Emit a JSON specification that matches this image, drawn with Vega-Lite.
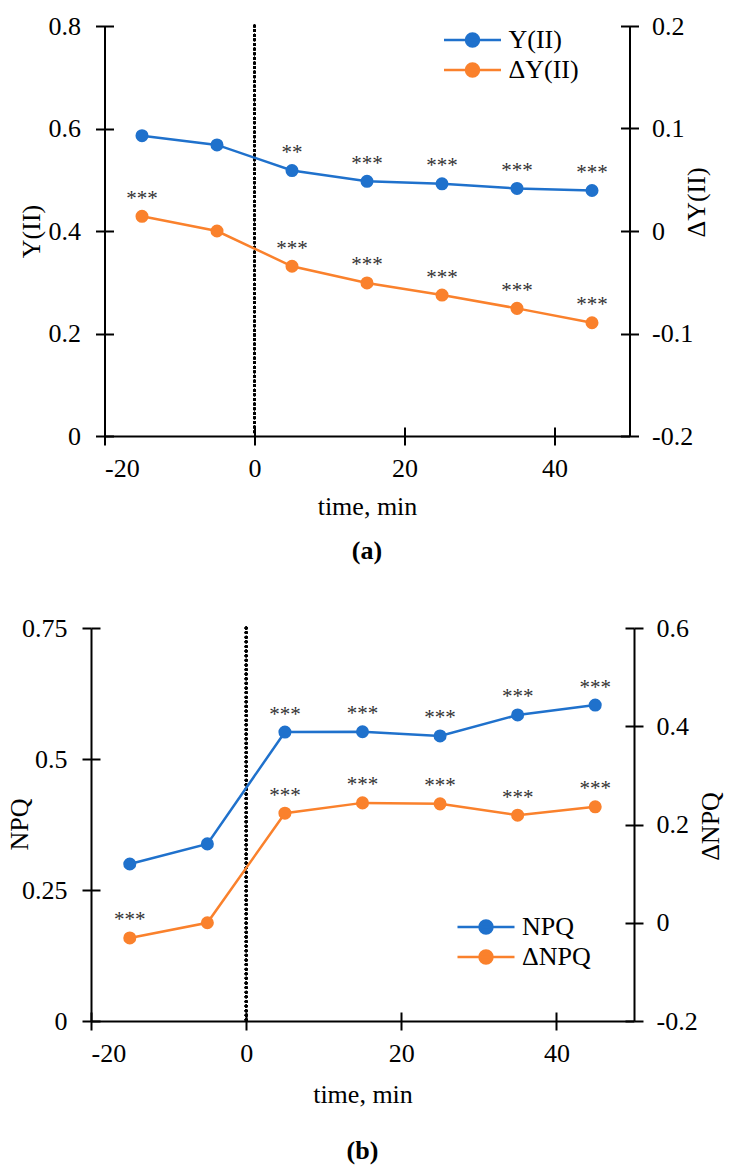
{
  "$schema": "https://vega.github.io/schema/vega-lite/v6.json",
  "background": "white",
  "padding": {"left": 6, "top": 13, "right": 5, "bottom": 5},
  "spacing": 51,
  "center": true,
  "resolve": {"scale": {"color": "independent"}, "legend": {"color": "independent"}},
  "config": {
    "font": "Liberation Serif",
    "view": {"stroke": null},
    "axis": {
      "domainColor": "black", "domainWidth": 2, "tickColor": "black", "tickWidth": 2, "tickSize": 9,
      "labelFont": "Liberation Serif", "titleFont": "Liberation Serif",
      "labelFontSize": 26, "labelColor": "black", "titleFontSize": 26, "titleFontWeight": "normal", "titleColor": "black",
      "grid": false,
      "labelExpr": "datum.value < 0 ? '-' + format(-datum.value, '~g') : format(datum.value, '~g')"
    },
    "axisX": {"labelPadding": 10, "titlePadding": 12},
    "axisY": {"labelPadding": 15},
    "title": {"font": "Liberation Serif", "color": "black"},
    "text": {"font": "Liberation Serif"},
    "legend": {"labelFont": "Liberation Serif", "labelFontSize": 26, "labelColor": "black"}
  },
  "datasets": {
    "a": [
      {"t": -15, "s": "Y(II)", "v": 0.586, "sig": ""},
      {"t": -5, "s": "Y(II)", "v": 0.568, "sig": ""},
      {"t": 5, "s": "Y(II)", "v": 0.518, "sig": "**"},
      {"t": 15, "s": "Y(II)", "v": 0.497, "sig": "***"},
      {"t": 25, "s": "Y(II)", "v": 0.492, "sig": "***"},
      {"t": 35, "s": "Y(II)", "v": 0.483, "sig": "***"},
      {"t": 45, "s": "Y(II)", "v": 0.479, "sig": "***"},
      {"t": -15, "s": "ΔY(II)", "v": 0.0143, "sig": "***"},
      {"t": -5, "s": "ΔY(II)", "v": 0.0, "sig": ""},
      {"t": 5, "s": "ΔY(II)", "v": -0.0344, "sig": "***"},
      {"t": 15, "s": "ΔY(II)", "v": -0.0507, "sig": "***"},
      {"t": 25, "s": "ΔY(II)", "v": -0.0625, "sig": "***"},
      {"t": 35, "s": "ΔY(II)", "v": -0.0755, "sig": "***"},
      {"t": 45, "s": "ΔY(II)", "v": -0.0895, "sig": "***"}
    ],
    "b": [
      {"t": -15, "s": "NPQ", "v": 0.2996, "sig": ""},
      {"t": -5, "s": "NPQ", "v": 0.338, "sig": ""},
      {"t": 5, "s": "NPQ", "v": 0.5515, "sig": "***"},
      {"t": 15, "s": "NPQ", "v": 0.552, "sig": "***"},
      {"t": 25, "s": "NPQ", "v": 0.544, "sig": "***"},
      {"t": 35, "s": "NPQ", "v": 0.584, "sig": "***"},
      {"t": 45, "s": "NPQ", "v": 0.603, "sig": "***"},
      {"t": -15, "s": "ΔNPQ", "v": -0.031, "sig": "***"},
      {"t": -5, "s": "ΔNPQ", "v": 0.0, "sig": ""},
      {"t": 5, "s": "ΔNPQ", "v": 0.223, "sig": "***"},
      {"t": 15, "s": "ΔNPQ", "v": 0.244, "sig": "***"},
      {"t": 25, "s": "ΔNPQ", "v": 0.242, "sig": "***"},
      {"t": 35, "s": "ΔNPQ", "v": 0.219, "sig": "***"},
      {"t": 45, "s": "ΔNPQ", "v": 0.236, "sig": "***"}
    ]
  },
  "vconcat": [
    {
      "width": 525, "height": 410,
      "title": {"text": "(a)", "orient": "bottom", "fontSize": 26, "fontWeight": "bold", "offset": 19},
      "data": {"name": "a"},
      "layer": [
        {
          "transform": [{"filter": "datum.s === 'Y(II)'"}],
          "encoding": {
            "x": {"field": "t", "type": "quantitative", "scale": {"domain": [-20, 50], "nice": false},
                  "axis": {"values": [-20, 0, 20, 40], "title": "time, min"}},
            "y": {"field": "v", "type": "quantitative", "scale": {"domain": [0, 0.8], "nice": false},
                  "axis": {"orient": "left", "values": [0, 0.2, 0.4, 0.6, 0.8], "title": "Y(II)",
                           "titleX": -73, "titleY": 205, "titleAngle": 270, "titleAlign": "center", "titleBaseline": "middle"}}
          },
          "layer": [
            {"mark": {"type": "rule", "strokeDash": [0.01, 4.6], "strokeCap": "round", "strokeWidth": 3, "color": "black"},
             "encoding": {"x": {"datum": 0, "type": "quantitative"}, "y": null}},
            {"mark": {"type": "line", "strokeWidth": 2.5, "point": {"filled": true, "size": 170, "opacity": 1}},
             "encoding": {
               "color": {"field": "s", "type": "nominal", "scale": {"domain": ["Y(II)", "ΔY(II)"], "range": ["#1f71cc", "#fa812c"]},
                 "legend": {"title": null, "orient": "none", "legendX": 355, "legendY": 1, "rowPadding": 4,
                   "symbolType": "M-5.7,0L5.7,0M-1.3,0A1.3,1.3,0,1,1,1.3,0A1.3,1.3,0,1,1,-1.3,0Z",
                   "symbolSize": 100, "symbolStrokeWidth": 2.5, "labelOffset": 23,
                   "encode": {"symbols": {"update": {"fill": {"scale": "color", "field": "value"}, "stroke": {"scale": "color", "field": "value"}, "opacity": {"value": 1}}}}}}
             }},
            {"mark": {"type": "text", "baseline": "alphabetic", "dy": -11.5, "fontSize": 21, "color": "#333"},
             "encoding": {"text": {"field": "sig"}}}
          ]
        },
        {
          "transform": [{"filter": "datum.s === 'ΔY(II)'"}],
          "encoding": {
            "x": {"field": "t", "type": "quantitative", "axis": null},
            "y": {"field": "v", "type": "quantitative", "scale": {"domain": [-0.2, 0.2], "nice": false},
                  "axis": {"orient": "right", "values": [-0.2, -0.1, 0, 0.1, 0.2], "title": "ΔY(II)", "labelPadding": 13,
                           "titleX": 67, "titleY": 176, "titleAngle": 270, "titleAlign": "center", "titleBaseline": "middle"}}
          },
          "layer": [
            {"mark": {"type": "line", "strokeWidth": 2.5, "point": {"filled": true, "size": 170, "opacity": 1}},
             "encoding": {"color": {"field": "s", "type": "nominal"}}},
            {"mark": {"type": "text", "baseline": "alphabetic", "dy": -11.5, "fontSize": 21, "color": "#333"},
             "encoding": {"text": {"field": "sig"}}}
          ]
        },
        {
          "transform": [{"filter": "datum.s === 'Y(II)'"}],
          "mark": {"type": "point", "opacity": 0},
          "encoding": {
            "x": {"field": "t", "type": "quantitative",
                  "axis": {"orient": "bottom", "values": [-20, 0, 20, 40], "tickSize": -9, "labels": false, "domain": false, "title": null}},
            "y": {"field": "v", "type": "quantitative", "scale": {"domain": [0, 0.8], "nice": false},
                  "axis": {"orient": "left", "values": [0, 0.2, 0.4, 0.6, 0.8], "tickSize": -9, "labels": false, "domain": false, "title": null}}
          }
        },
        {
          "transform": [{"filter": "datum.s === 'ΔY(II)'"}],
          "mark": {"type": "point", "opacity": 0},
          "encoding": {
            "x": {"field": "t", "type": "quantitative", "axis": null},
            "y": {"field": "v", "type": "quantitative", "scale": {"domain": [-0.2, 0.2], "nice": false},
                  "axis": {"orient": "right", "values": [-0.2, -0.1, 0, 0.1, 0.2], "tickSize": -9, "labels": false, "domain": false, "title": null}}
          }
        }
      ],
      "resolve": {"scale": {"y": "independent"}, "axis": {"x": "independent"}}
    },
    {
      "width": 543, "height": 393,
      "title": {"text": "(b)", "orient": "bottom", "fontSize": 26, "fontWeight": "bold", "offset": 31},
      "data": {"name": "b"},
      "layer": [
        {
          "transform": [{"filter": "datum.s === 'NPQ'"}],
          "encoding": {
            "x": {"field": "t", "type": "quantitative", "scale": {"domain": [-20, 50], "nice": false},
                  "axis": {"values": [-20, 0, 20, 40], "title": "time, min", "titlePadding": 15}},
            "y": {"field": "v", "type": "quantitative", "scale": {"domain": [0, 0.75], "nice": false},
                  "axis": {"orient": "left", "values": [0, 0.25, 0.5, 0.75], "title": "NPQ",
                           "titleX": -72, "titleY": 196, "titleAngle": 270, "titleAlign": "center", "titleBaseline": "middle"}}
          },
          "layer": [
            {"mark": {"type": "rule", "strokeDash": [0.01, 4.6], "strokeCap": "round", "strokeWidth": 3, "color": "black"},
             "encoding": {"x": {"datum": 0, "type": "quantitative"}, "y": null}},
            {"mark": {"type": "line", "strokeWidth": 2.5, "point": {"filled": true, "size": 170, "opacity": 1}},
             "encoding": {
               "color": {"field": "s", "type": "nominal", "scale": {"domain": ["NPQ", "ΔNPQ"], "range": ["#1f71cc", "#fa812c"]},
                 "legend": {"title": null, "orient": "none", "legendX": 382, "legendY": 286, "rowPadding": 4,
                   "symbolType": "M-5.7,0L5.7,0M-1.3,0A1.3,1.3,0,1,1,1.3,0A1.3,1.3,0,1,1,-1.3,0Z",
                   "symbolSize": 100, "symbolStrokeWidth": 2.5, "labelOffset": 23,
                   "encode": {"symbols": {"update": {"fill": {"scale": "color", "field": "value"}, "stroke": {"scale": "color", "field": "value"}, "opacity": {"value": 1}}}}}}
             }},
            {"mark": {"type": "text", "baseline": "alphabetic", "dy": -11.5, "fontSize": 21, "color": "#333"},
             "encoding": {"text": {"field": "sig"}}}
          ]
        },
        {
          "transform": [{"filter": "datum.s === 'ΔNPQ'"}],
          "encoding": {
            "x": {"field": "t", "type": "quantitative", "axis": null},
            "y": {"field": "v", "type": "quantitative", "scale": {"domain": [-0.2, 0.6], "nice": false},
                  "axis": {"orient": "right", "values": [-0.2, 0, 0.2, 0.4, 0.6], "title": "ΔNPQ", "labelPadding": 13,
                           "titleX": 76, "titleY": 198, "titleAngle": 270, "titleAlign": "center", "titleBaseline": "middle"}}
          },
          "layer": [
            {"mark": {"type": "line", "strokeWidth": 2.5, "point": {"filled": true, "size": 170, "opacity": 1}},
             "encoding": {"color": {"field": "s", "type": "nominal"}}},
            {"mark": {"type": "text", "baseline": "alphabetic", "dy": -11.5, "fontSize": 21, "color": "#333"},
             "encoding": {"text": {"field": "sig"}}}
          ]
        },
        {
          "transform": [{"filter": "datum.s === 'NPQ'"}],
          "mark": {"type": "point", "opacity": 0},
          "encoding": {
            "x": {"field": "t", "type": "quantitative",
                  "axis": {"orient": "bottom", "values": [-20, 0, 20, 40], "tickSize": -9, "labels": false, "domain": false, "title": null}},
            "y": {"field": "v", "type": "quantitative", "scale": {"domain": [0, 0.75], "nice": false},
                  "axis": {"orient": "left", "values": [0, 0.25, 0.5, 0.75], "tickSize": -9, "labels": false, "domain": false, "title": null}}
          }
        },
        {
          "transform": [{"filter": "datum.s === 'ΔNPQ'"}],
          "mark": {"type": "point", "opacity": 0},
          "encoding": {
            "x": {"field": "t", "type": "quantitative", "axis": null},
            "y": {"field": "v", "type": "quantitative", "scale": {"domain": [-0.2, 0.6], "nice": false},
                  "axis": {"orient": "right", "values": [-0.2, 0, 0.2, 0.4, 0.6], "tickSize": -9, "labels": false, "domain": false, "title": null}}
          }
        }
      ],
      "resolve": {"scale": {"y": "independent"}, "axis": {"x": "independent"}}
    }
  ]
}
